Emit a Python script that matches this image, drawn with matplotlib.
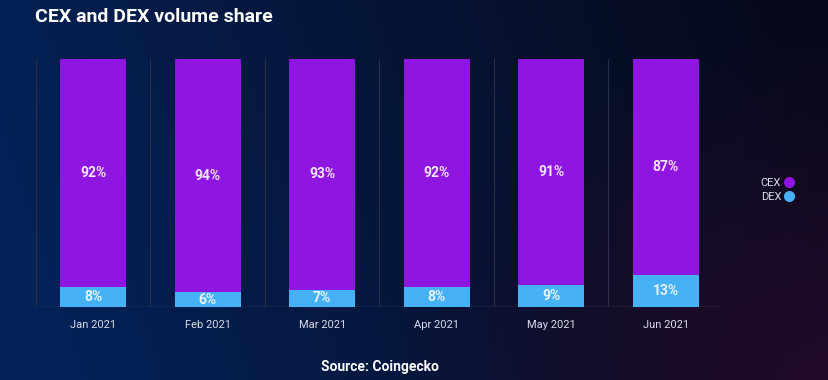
import numpy as np
import matplotlib
matplotlib.use("Agg")
import matplotlib.pyplot as plt
from matplotlib.lines import Line2D

plt.rcParams["font.family"] = ["Roboto", "DejaVu Sans"]

months = ["Jan 2021", "Feb 2021", "Mar 2021", "Apr 2021", "May 2021", "Jun 2021"]
cex = [92, 94, 93, 92, 91, 87]
dex = [8, 6, 7, 8, 9, 13]

CEX_C = "#8e16e0"
DEX_C = "#45b1f6"

fig = plt.figure(figsize=(8.29, 3.8), dpi=100)

# background gradient
bg = fig.add_axes([0, 0, 1, 1])
H, W = 190, 415
yy, xx = np.mgrid[0:H, 0:W]
u = xx / (W - 1)
v = yy / (H - 1)
left = np.array([4, 34, 88]) / 255
dark = np.array([7, 9, 26]) / 255
purple = np.array([34, 10, 40]) / 255
t = np.clip(u * 1.0 - 0.15 * v + 0.05, 0, 1)[..., None] ** 0.9
base = left + (dark - left) * t
d = np.sqrt(((1 - u) / 0.55) ** 2 + ((1 - v) / 0.9) ** 2)
w = np.clip(1 - d, 0, 1)[..., None]
img = base + (purple - base) * w
bg.imshow(img, aspect="auto", extent=[0, 1, 0, 1], origin="upper")
bg.axis("off")

W_px, H_px = 829, 380
ax = fig.add_axes([36 / W_px, 1 - 307 / H_px, (723 - 36) / W_px, (307 - 59) / H_px])
ax.set_facecolor("none")
x = np.arange(len(months))
bw = 0.575
ax.bar(x, dex, width=bw, color=DEX_C, zorder=3)
ax.bar(x, cex, width=bw, bottom=dex, color=CEX_C, zorder=3)
for i in range(len(months)):
    ax.text(x[i], dex[i] / 2, f"{dex[i]}%", ha="center", va="center", color="#e8f4ff",
            fontsize=10, fontweight="bold", zorder=4)
    ax.text(x[i], dex[i] + cex[i] / 2, f"{cex[i]}%", ha="center", va="center", color="#f3e6ff",
            fontsize=10, fontweight="bold", zorder=4)
ax.set_xlim(-0.5, len(months) - 0.5)
ax.set_ylim(0, 100)
for b in np.arange(-0.5, len(months), 1.0):
    ax.axvline(b, color="#2a2f45", lw=0.8, zorder=1)
for s in ax.spines.values():
    s.set_visible(False)
ax.axhline(0, color="#444a60", lw=1.0, zorder=2)
ax.set_yticks([])
ax.set_xticks(x)
ax.set_xticklabels(months, color="#d8dcea", fontsize=8)
ax.tick_params(axis="x", length=0, pad=9)

fig.text(35 / W_px, 1 - 17 / H_px, "CEX and DEX volume share", color="white", fontsize=14,
         fontweight="bold", ha="left", va="center")
fig.text(380 / W_px, 1 - 367 / H_px, "Source: Coingecko", color="white", fontsize=10,
         fontweight="bold", ha="center", va="center")

handles = [Line2D([], [], marker="o", ls="none", color=CEX_C, markersize=7),
           Line2D([], [], marker="o", ls="none", color=DEX_C, markersize=7)]
leg = fig.legend(handles, ["CEX", "DEX"], loc="center", bbox_to_anchor=(777 / W_px, 1 - 190 / H_px),
                 frameon=False, markerfirst=False, fontsize=8, labelcolor="#d8dcea",
                 handletextpad=0.3, labelspacing=0.3, handlelength=0.8)

fig.savefig("out.png", dpi=100)
